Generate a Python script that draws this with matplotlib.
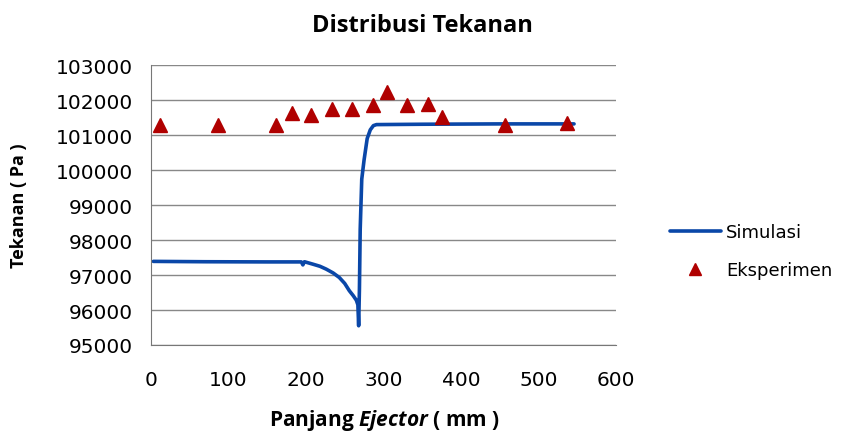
import matplotlib
matplotlib.use("Agg")
import matplotlib.pyplot as plt

plt.rcParams['font.family'] = ['Open Sans', 'DejaVu Sans']
plt.rcParams['mathtext.fontset'] = 'custom'
plt.rcParams['mathtext.it'] = 'Open Sans:italic:bold'

# Simulasi (line)
sim_x = [3, 70, 150, 194, 196, 198, 209, 218, 226, 235, 243, 250, 256, 261, 265, 267, 268,
         269, 270, 272, 275, 279, 283, 287, 291, 350, 450, 546]
sim_y = [97390, 97380, 97375, 97375, 97290, 97380, 97310, 97250, 97170, 97060, 96930, 96760, 96550, 96410, 96280, 96150, 95550,
         96600, 98310, 99740, 100290, 100900, 101150, 101270, 101300, 101310, 101320, 101320]

# Eksperimen (triangles)
exp_x = [12, 86, 161, 182, 207, 233, 260, 286, 305, 331, 357, 376, 457, 537]
exp_y = [101300, 101300, 101300, 101620, 101570, 101740, 101760, 101860, 102240, 101860, 101880, 101510, 101300, 101340]

yticks = list(range(95000, 103001, 1000))
xticks = list(range(0, 601, 100))

fig = plt.figure(figsize=(8.46, 4.35), dpi=100)
ax = fig.add_axes([0.1785, 0.2046, 0.5495, 0.6434])

ax.plot(sim_x, sim_y, color='#0a47a8', lw=2.6, label='Simulasi', solid_capstyle='round')
ax.plot(exp_x, exp_y, ls='none', marker='^', color='#b00000', ms=10, label='Eksperimen')

ax.set_xlim(0, 600)
ax.set_ylim(95000, 103000)
ax.set_xticks(xticks)
ax.set_yticks(yticks)
ax.set_yticklabels([str(v) for v in yticks], family='DejaVu Sans')
ax.set_xticklabels([str(v) for v in xticks], family='DejaVu Sans')
ax.grid(True, axis='y', color='#888888', lw=1)
ax.set_axisbelow(True)
for s in ['top', 'right']:
    ax.spines[s].set_visible(False)
for s in ['left', 'bottom']:
    ax.spines[s].set_color('#777777')
ax.tick_params(axis='y', length=0, labelsize=14.5, pad=13)
ax.tick_params(axis='x', length=0, labelsize=14.5, pad=18)

fig.text(422 / 846, 1 - 26 / 435, 'Distribusi Tekanan', fontsize=17, fontweight='bold',
         ha='center', va='center')
ax.set_ylabel('Tekanan ( Pa )', fontsize=13, fontweight='bold')
ax.set_xlabel(r'Panjang $Ejector$ ( mm )', fontsize=15, fontweight='bold')
ax.yaxis.set_label_coords(-0.265, 0.5)
ax.xaxis.set_label_coords(0.502, -0.222)

leg = fig.legend(loc='center left', bbox_to_anchor=(0.773, 0.42), frameon=False,
                 prop={'family': 'DejaVu Sans', 'size': 13}, handlelength=2.8,
                 labelspacing=1.1, handletextpad=0.3, markerscale=0.8)

fig.savefig('out.png', dpi=100)
